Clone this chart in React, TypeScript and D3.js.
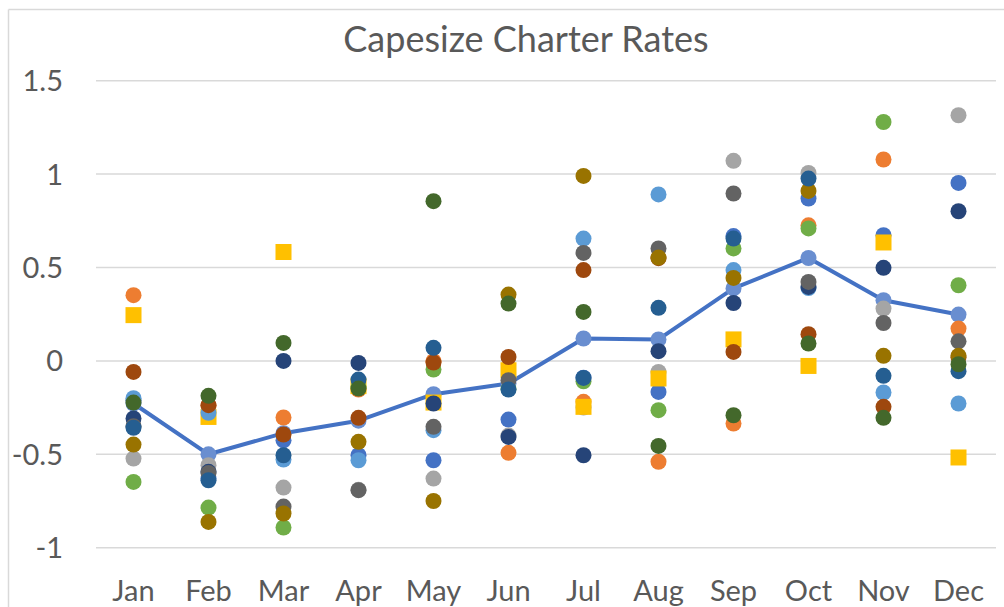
import React from "react";
import * as d3 from "d3";

const months = ["Jan", "Feb", "Mar", "Apr", "May", "Jun", "Jul", "Aug", "Sep", "Oct", "Nov", "Dec"];
const yTicks = [-1, -0.5, 0, 0.5, 1, 1.5];
const title = "Capesize Charter Rates";

type V = number | null;
const s1: V[] = [-0.21, -0.63, -0.425, -0.505, -0.532, -0.314, -0.09, -0.166, 0.668, 0.869, 0.673, 0.953];
const s2: V[] = [0.352, -0.24, -0.303, -0.153, -0.002, -0.492, -0.219, -0.54, -0.335, 0.726, 1.078, 0.173];
const s3: V[] = [-0.523, -0.558, -0.678, -0.69, -0.63, -0.4, -0.25, -0.059, 1.071, 1.006, 0.28, 1.315];
const s4: V[] = [0.245, -0.3, 0.583, -0.135, -0.223, -0.05, -0.246, -0.094, 0.115, -0.027, 0.634, -0.517];
const s5: V[] = [-0.2, -0.278, -0.528, -0.532, -0.371, null, 0.655, 0.891, 0.486, 0.39, -0.169, -0.228];
const s6: V[] = [-0.648, -0.785, -0.892, -0.14, -0.046, -0.15, -0.109, -0.264, 0.602, 0.709, 1.279, 0.405];
const s7: V[] = [-0.308, -0.594, 0.0, -0.011, -0.228, -0.407, -0.505, 0.052, 0.31, 0.396, 0.498, 0.801];
const s8: V[] = [-0.059, -0.237, -0.394, -0.305, -0.009, 0.021, 0.486, 0.55, 0.048, 0.143, -0.246, 0.02];
const s9: V[] = [-0.35, -0.6, -0.78, -0.692, -0.353, -0.103, 0.578, 0.602, 0.896, 0.423, 0.203, 0.105];
const s10: V[] = [-0.448, -0.862, -0.817, -0.433, -0.75, 0.355, 0.99, 0.553, 0.444, 0.91, 0.027, 0.027];
const s11: V[] = [-0.358, -0.639, -0.505, -0.1, 0.07, -0.153, -0.091, 0.284, 0.655, 0.976, -0.08, -0.055];
const s12: V[] = [-0.223, -0.187, 0.096, -0.148, 0.855, 0.307, 0.262, -0.455, -0.291, 0.093, -0.305, -0.018];
const average: number[] = [-0.228, -0.5, -0.387, -0.32, -0.178, -0.121, 0.12, 0.115, 0.388, 0.551, 0.325, 0.248];

const seriesList: V[][] = [s1, s2, s3, s4, s5, s6, s7, s8, s9, s10, s11, s12];
const seriesColors = [
  "#4472C4", "#ED7D31", "#A5A5A5", "#FFC000", "#5B9BD5", "#70AD47",
  "#264478", "#9E480E", "#636363", "#997300", "#255E91", "#43682B",
];
const squareSeries = [3];

export default function App() {
  const W = 1004;
  const H = 607;
  const left = 96;
  const right = 996;
  const x = d3.scaleBand<string>().domain(months).range([left, right]);
  const cx = (m: string) => (x(m) as number) + x.bandwidth() / 2;
  const y = d3.scaleLinear().domain([-1, 1.5]).range([547.7, 80.7]);
  const font = "Lato, 'Open Sans', sans-serif";
  const txt = "#595959";

  const line = d3
    .line<number>()
    .x((_, i) => cx(months[i]))
    .y((d) => y(d));

  return (
    <svg
      width={W}
      height={H}
      style={{ position: "absolute", left: 0, top: 0, background: "#fff" }}
    >
      <rect x={0} y={0} width={W} height={H} fill="#fff" />
      <line x1={8.5} y1={9.5} x2={W} y2={9.5} stroke="#D9D9D9" strokeWidth={1.5} />
      <line x1={8.5} y1={9.5} x2={8.5} y2={H} stroke="#D9D9D9" strokeWidth={1.5} />
      <text x={526} y={52} textAnchor="middle" fontFamily={font} fontSize={36} fill={txt}>
        {title}
      </text>
      {yTicks.map((t) => (
        <g key={t}>
          <line x1={left} x2={right} y1={y(t)} y2={y(t)} stroke="#D9D9D9" strokeWidth={1.5} />
          <text
            x={63}
            y={y(t)}
            dy="0.36em"
            textAnchor="end"
            fontFamily={font}
            fontSize={29}
            fill={txt}
          >
            {t}
          </text>
        </g>
      ))}
      {months.map((m) => (
        <text key={m} x={cx(m)} y={601} textAnchor="middle" fontFamily={font} fontSize={29} fill={txt}>
          {m}
        </text>
      ))}
      <path d={line(average) || ""} fill="none" stroke="#4472C4" strokeWidth={4} strokeLinejoin="round" />
      {average.map((v, i) => (
        <circle key={"a" + i} cx={cx(months[i])} cy={y(v)} r={8} fill="#698ED0" />
      ))}
      {seriesList.map((s, si) => (
        <g key={si}>
          {s.map((v, i) =>
            v === null ? null : squareSeries.includes(si) ? (
              <rect
                key={i}
                x={cx(months[i]) - 8}
                y={y(v) - 8}
                width={16}
                height={16}
                fill={seriesColors[si]}
              />
            ) : (
              <circle key={i} cx={cx(months[i])} cy={y(v)} r={8} fill={seriesColors[si]} />
            )
          )}
        </g>
      ))}
    </svg>
  );
}
